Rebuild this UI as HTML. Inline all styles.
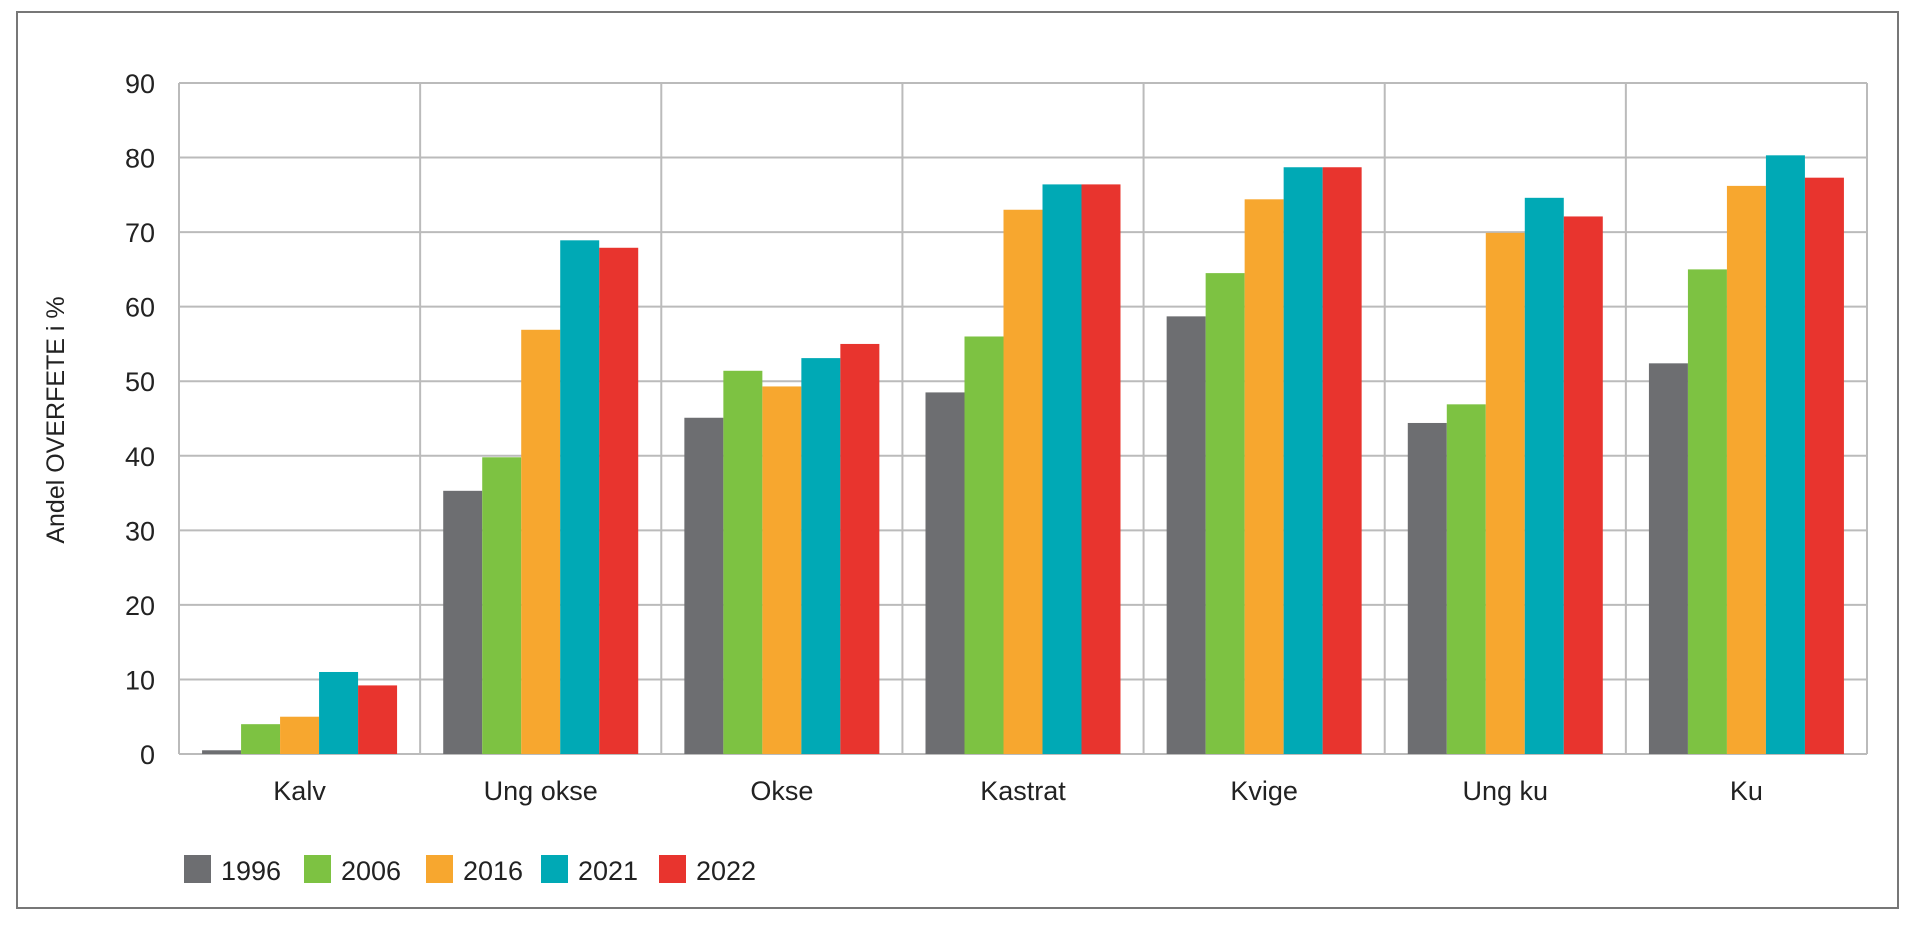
<!DOCTYPE html>
<html><head><meta charset="utf-8"><style>
html,body{margin:0;padding:0;background:#fff;}
svg{display:block;font-family:"Liberation Sans",sans-serif;}
</style></head><body>
<svg id="chart" width="1920" height="926" viewBox="0 0 1920 926">
<rect x="17" y="12" width="1881" height="896" fill="#fff" stroke="#777" stroke-width="2"/>
<g id="grid"></g><g id="bars"></g><g id="labels"></g><g id="legend"></g>
<text transform="translate(64,420) rotate(-90)" text-anchor="middle" font-size="25" fill="#222">Andel OVERFETE i %</text>
</svg>
<script>
const categories=["Kalv","Ung okse","Okse","Kastrat","Kvige","Ung ku","Ku"];
const seriesNames=["1996","2006","2016","2021","2022"];
const s1996=[0.5,35.3,45.1,48.5,58.7,44.4,52.4];
const s2006=[4,39.8,51.4,56,64.5,46.9,65];
const s2016=[5,56.9,49.3,73,74.4,69.9,76.2];
const s2021=[11,68.9,53.1,76.4,78.7,74.6,80.3];
const s2022=[9.2,67.9,55,76.4,78.7,72.1,77.3];
const yTicks=[0,10,20,30,40,50,60,70,80,90];
const series=[s1996,s2006,s2016,s2021,s2022];
const colors=["#6d6e71","#7dc242","#f7a72f","#00a9b5","#e8342e"];
const L=179,R=1867,T=83,B=754,yMax=90;
const ns="http://www.w3.org/2000/svg";
const cw=(R-L)/categories.length, bw=39, pad=(cw-bw*5)/2;
const y=v=>B-(v/yMax)*(B-T);
const x=i=>L+i*cw;
function mk(tag,attrs,parent,txt){const e=document.createElementNS(ns,tag);for(const k in attrs)e.setAttribute(k,attrs[k]);if(txt!==undefined)e.textContent=txt;document.getElementById(parent).appendChild(e);return e;}
yTicks.forEach(t=>{
 const l=mk('line',{x1:L,x2:R,y1:y(t),y2:y(t),stroke:'#bbb','stroke-width':2},'grid');
 
 
 const tx=mk('text',{x:L-24,y:y(t)+10,'text-anchor':'end','font-size':27,fill:'#222'},'labels',String(t));
 
 
});
for(let i=0;i<=categories.length;i++){
 const l=mk('line',{x1:x(i),x2:x(i),y1:T,y2:B,stroke:'#bbb','stroke-width':2},'grid');
 
 
}
categories.forEach((c,i)=>{
 series.forEach((s,j)=>{
  const r=mk('rect',{x:x(i)+pad+j*bw,y:y(s[i]),width:bw,height:B-y(s[i]),fill:colors[j]},'bars');
  
  
 });
 const t=mk('text',{x:x(i)+cw/2,y:800,'text-anchor':'middle','font-size':27,fill:'#222'},'labels',c);
 
 
});
const legX=[184,304,426,541,659];
seriesNames.forEach((n,j)=>{
 const r=mk('rect',{x:legX[j],y:855,width:27,height:28,fill:colors[j]},'legend');
 
 
 const t=mk('text',{x:legX[j]+37,y:880,'font-size':27,fill:'#222'},'legend',n);
 
 
});
</script>
</body></html>
